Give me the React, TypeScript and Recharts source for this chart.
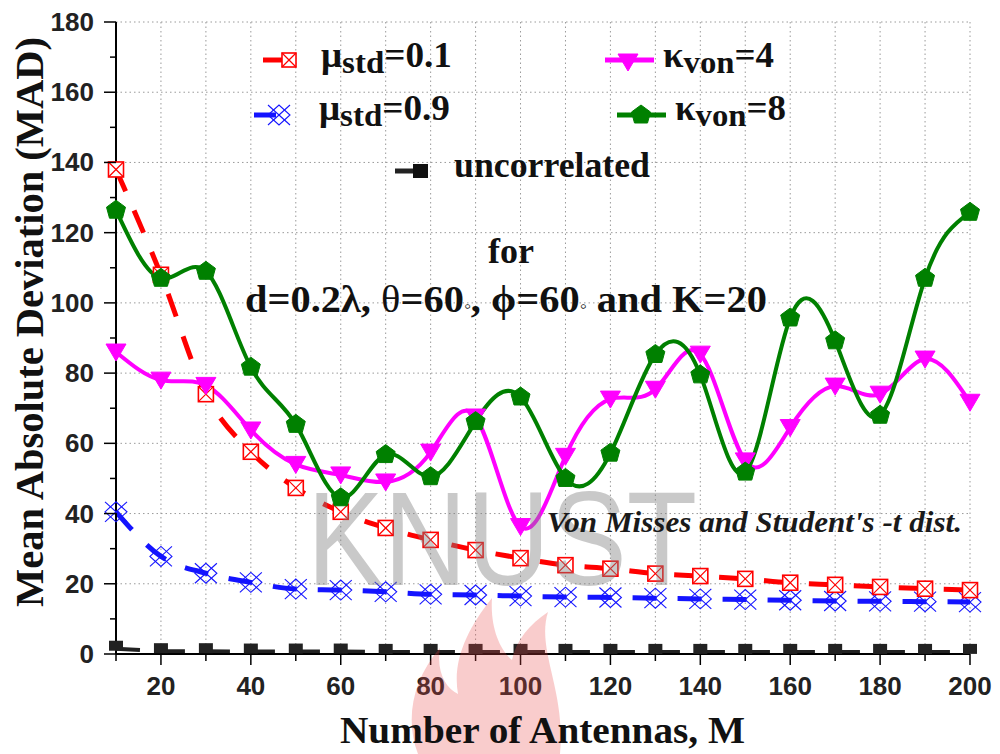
import React from 'react';
import { LineChart, Line, XAxis, YAxis, CartesianGrid } from 'recharts';

// ---------- data ----------
const antennas = [10, 20, 30, 40, 50, 60, 70, 80, 90, 100, 110, 120, 130, 140, 150, 160, 170, 180, 190, 200];
const muStd01 = [138, 108, 74, 57.6, 47.3, 40.5, 35.9, 32.5, 29.6, 27.3, 25.3, 24.3, 22.9, 22.2, 21.4, 20.3, 19.7, 19.1, 18.6, 18.2];
const muStd09 = [40.5, 27.8, 23, 20.4, 18.5, 18.2, 17.7, 17.0, 16.8, 16.5, 16.2, 16.1, 15.9, 15.7, 15.5, 15.3, 15.1, 15.0, 14.9, 14.8];
const kappaVon4 = [86, 78, 76.5, 63.8, 54, 51, 49, 57.5, 67.5, 36.3, 56.3, 72.6, 75.4, 85.4, 55, 64.5, 76.3, 74, 84, 71.7];
const kappaVon8 = [126.4, 107, 109, 81.7, 65.4, 44.5, 56.8, 50.5, 66.2, 73.2, 50, 57.2, 85.3, 79.5, 51.8, 95.7, 89.2, 68, 107, 125.8];
const uncorrelated = [1.5, 0.8, 0.8, 0.7, 0.7, 0.7, 0.6, 0.6, 0.6, 0.6, 0.6, 0.6, 0.6, 0.6, 0.6, 0.6, 0.6, 0.6, 0.6, 0.6];

const xTicks = [10, 20, 30, 40, 50, 60, 70, 80, 90, 100, 110, 120, 130, 140, 150, 160, 170, 180, 190, 200];
const xLabelStep = 20;
const yTicks = [0, 10, 20, 30, 40, 50, 60, 70, 80, 90, 100, 110, 120, 130, 140, 150, 160, 170, 180];
const yLabelStep = 20;
const yGridValues = [0, 20, 40, 60, 80, 100, 120, 140, 160, 180];

const data = antennas.map((m, i) => ({
  m,
  mu01: muStd01[i],
  mu09: muStd09[i],
  k4: kappaVon4[i],
  k8: kappaVon8[i],
  unc: uncorrelated[i],
}));

const SERIF = "'Liberation Serif', 'Times New Roman', serif";
const SANS = "'Liberation Sans', Arial, sans-serif";
const RED = '#ff0000';
const BLUE = '#1414ff';
const MAGENTA = '#ff00ff';
const GREEN = '#008000';
const BLACK = '#222222';

// ---------- markers ----------
const SquareX = ({ cx, cy, s = 15, color = RED }: any) => {
  const h = s / 2;
  return (
    <g>
      <rect x={cx - h} y={cy - h} width={s} height={s} fill="#fff" stroke={color} strokeWidth={1.6} />
      <line x1={cx - h} y1={cy - h} x2={cx + h} y2={cy + h} stroke={color} strokeWidth={1.2} />
      <line x1={cx - h} y1={cy + h} x2={cx + h} y2={cy - h} stroke={color} strokeWidth={1.2} />
    </g>
  );
};

const Lattice = ({ cx, cy, color = BLUE }: any) => {
  const w = 11;
  const h = 10;
  return (
    <g stroke={color} strokeWidth={1.1} fill="none">
      <line x1={cx - w} y1={cy - h} x2={cx + w} y2={cy + h} />
      <line x1={cx - w} y1={cy + h} x2={cx + w} y2={cy - h} />
      <polygon points={`${cx - w},${cy} ${cx},${cy - h} ${cx + w},${cy} ${cx},${cy + h}`} />
    </g>
  );
};

const TriDown = ({ cx, cy, color = MAGENTA }: any) => (
  <polygon points={`${cx - 10},${cy - 8} ${cx + 10},${cy - 8} ${cx},${cy + 9}`} fill={color} stroke={color} strokeWidth={1} />
);

const Pentagon = ({ cx, cy, color = GREEN }: any) => (
  <polygon
    points={`${cx},${cy - 10} ${cx + 9.5},${cy - 3} ${cx + 6.5},${cy + 8} ${cx - 6.5},${cy + 8} ${cx - 9.5},${cy - 3}`}
    fill={color}
    stroke={color}
    strokeWidth={1}
  />
);

const HalfSquare = ({ cx, cy, color = BLACK }: any) => (
  <rect x={cx - 7} y={cy - 8} width={14} height={10} fill={color} />
);

// ---------- axis ticks ----------
const BottomTick = (props: any) => {
  const { x, y, payload } = props;
  const v = payload.value;
  const major = v % xLabelStep === 0;
  return (
    <g>
      <line x1={x} x2={x} y1={y} y2={y + (major ? 11 : 7)} stroke="#000" strokeWidth={1.5} />
      {major ? (
        <text x={x} y={y + 41} textAnchor="middle" fontFamily={SANS} fontWeight="bold" fontSize={26} fill="#222">
          {v}
        </text>
      ) : null}
    </g>
  );
};

const TopTick = (props: any) => {
  const { x, y, payload } = props;
  const major = payload.value % xLabelStep === 0;
  return <line x1={x} x2={x} y1={y} y2={y + (major ? 8 : 4)} stroke="#000" strokeWidth={1.5} />;
};

const LeftTick = (props: any) => {
  const { x, y, payload } = props;
  const v = payload.value;
  const major = v % yLabelStep === 0;
  return (
    <g>
      <line x1={x - (major ? 12 : 6)} x2={x} y1={y} y2={y} stroke="#000" strokeWidth={1.5} />
      {major ? (
        <text x={x - 22} y={y + 9} textAnchor="end" fontFamily={SANS} fontWeight="bold" fontSize={26} fill="#222">
          {v}
        </text>
      ) : null}
    </g>
  );
};

const RightTick = (props: any) => {
  const { x, y, payload } = props;
  const major = payload.value % yLabelStep === 0;
  return <line x1={x - (major ? 12 : 5)} x2={x} y1={y} y2={y} stroke="#000" strokeWidth={1.5} />;
};

const axisLine = { stroke: '#000', strokeWidth: 2 };

// ---------- overlay (legend, annotations, titles, watermark) ----------
const Overlay = () => (
  <svg
    width={1000}
    height={754}
    style={{ position: 'absolute', left: 0, top: 0, pointerEvents: 'none' }}
  >
    {/* watermark */}
    <path
      d="M 418 754 C 405 720, 412 680, 440 648 C 436 672, 446 688, 458 694 C 452 660, 468 628, 492 598 C 490 628, 500 650, 512 660 C 516 640, 530 624, 548 612 C 536 650, 566 690, 560 754 Z"
      fill="#e84848"
      opacity={0.28}
    />
    <text
      x={307}
      y={585}
      fontFamily={SANS}
      fontSize={133}
      textLength={390}
      lengthAdjust="spacingAndGlyphs"
      fill="#808080"
      opacity={0.42}
    >
      KNUST
    </text>

    {/* axis titles */}
    <text
      transform="translate(43,322) rotate(-90)"
      textAnchor="middle"
      fontFamily={SERIF}
      fontWeight="bold"
      fontSize={40}
      textLength={570}
      lengthAdjust="spacingAndGlyphs"
      fill="#111"
    >
      Mean Absolute Deviation (MAD)
    </text>
    <text
      x={340}
      y={743}
      fontFamily={SERIF}
      fontWeight="bold"
      fontSize={38}
      textLength={405}
      lengthAdjust="spacingAndGlyphs"
      fill="#111"
    >
      Number of Antennas, M
    </text>

    {/* legend */}
    <line x1={263} y1={60} x2={287} y2={60} stroke={RED} strokeWidth={5} />
    <SquareX cx={289} cy={60} s={14} />
    <text x={321} y={67} fontFamily={SERIF} fontWeight="bold" fontSize={35} textLength={131} lengthAdjust="spacingAndGlyphs" fill="#111">
      μ<tspan dy={6} fontSize={31}>std</tspan><tspan dy={-6}>=0.1</tspan>
    </text>

    <line x1={605} y1={60} x2={654} y2={60} stroke={MAGENTA} strokeWidth={5} />
    <TriDown cx={628} cy={62} />
    <text x={663} y={67} fontFamily={SERIF} fontWeight="bold" fontSize={35} textLength={111} lengthAdjust="spacingAndGlyphs" fill="#111">
      κ<tspan dy={6} fontSize={31}>von</tspan><tspan dy={-6}>=4</tspan>
    </text>

    <line x1={254} y1={115} x2={276} y2={115} stroke={BLUE} strokeWidth={5} />
    <Lattice cx={279} cy={115} />
    <text x={319} y={120} fontFamily={SERIF} fontWeight="bold" fontSize={35} textLength={131} lengthAdjust="spacingAndGlyphs" fill="#111">
      μ<tspan dy={6} fontSize={31}>std</tspan><tspan dy={-6}>=0.9</tspan>
    </text>

    <line x1={617} y1={115} x2={666} y2={115} stroke={GREEN} strokeWidth={5} />
    <Pentagon cx={641} cy={115} />
    <text x={675} y={120} fontFamily={SERIF} fontWeight="bold" fontSize={35} textLength={111} lengthAdjust="spacingAndGlyphs" fill="#111">
      κ<tspan dy={6} fontSize={31}>von</tspan><tspan dy={-6}>=8</tspan>
    </text>

    <line x1={395} y1={171} x2={418} y2={171} stroke={BLACK} strokeWidth={5} />
    <rect x={413} y={164} width={15} height={14} fill="#111" />
    <text x={454} y={177} fontFamily={SERIF} fontWeight="bold" fontSize={35} textLength={196} lengthAdjust="spacingAndGlyphs" fill="#111">
      uncorrelated
    </text>

    {/* annotations */}
    <text x={511} y={263} textAnchor="middle" fontFamily={SERIF} fontWeight="bold" fontSize={36} fill="#111">
      for
    </text>
    <text x={245} y={312} fontFamily={SERIF} fontWeight="bold" fontSize={37} textLength={522} lengthAdjust="spacingAndGlyphs" fill="#111">
      d=0.2λ, <tspan fontWeight="normal">θ</tspan>=60<tspan fontSize={18} fontWeight="normal">◦</tspan>, ϕ=60<tspan fontSize={18} fontWeight="normal">◦</tspan> and K=20
    </text>
    <text
      x={547}
      y={532}
      fontFamily={SERIF}
      fontWeight="bold"
      fontStyle="italic"
      fontSize={30}
      textLength={415}
      lengthAdjust="spacingAndGlyphs"
      fill="#1a1a1a"
    >
      Von Misses and Student's -t dist.
    </text>
  </svg>
);

export default function App() {
  return (
    <div style={{ position: 'absolute', left: 0, top: 0, width: 1000, height: 754, background: '#fff' }}>
      <LineChart width={1000} height={754} data={data} margin={{ top: 22, right: 30, bottom: 0, left: 0 }}>
        <CartesianGrid
          xAxisId="b"
          yAxisId="l"
          horizontalValues={yGridValues}
          verticalValues={xTicks}
          stroke="#9a9a9a"
          strokeDasharray="1.5 3"
          strokeWidth={1}
        />
        <XAxis
          xAxisId="b"
          dataKey="m"
          type="number"
          domain={[10, 200]}
          ticks={xTicks}
          interval={0}
          orientation="bottom"
          height={100}
          tickSize={0}
          tickMargin={0}
          tickLine={false}
          axisLine={axisLine}
          tick={(p: any) => <BottomTick {...p} />}
        />
        <XAxis
          xAxisId="t"
          dataKey="m"
          type="number"
          domain={[10, 200]}
          ticks={xTicks}
          interval={0}
          orientation="top"
          height={0}
          tickSize={0}
          tickMargin={0}
          tickLine={false}
          axisLine={axisLine}
          tick={(p: any) => <TopTick {...p} />}
        />
        <YAxis
          yAxisId="l"
          type="number"
          domain={[0, 180]}
          ticks={yTicks}
          interval={0}
          orientation="left"
          width={116}
          tickSize={0}
          tickMargin={0}
          tickLine={false}
          axisLine={axisLine}
          tick={(p: any) => <LeftTick {...p} />}
        />
        <YAxis
          yAxisId="r"
          type="number"
          domain={[0, 180]}
          ticks={yTicks}
          interval={0}
          orientation="right"
          width={0}
          tickSize={0}
          tickMargin={0}
          tickLine={false}
          axisLine={axisLine}
          tick={(p: any) => <RightTick {...p} />}
        />

        <Line
          xAxisId="b"
          yAxisId="l"
          dataKey="unc"
          type="linear"
          stroke={BLACK}
          strokeWidth={4}
          strokeDasharray="24 21"
          isAnimationActive={false}
          activeDot={false}
          dot={(p: any) => <HalfSquare key={`u${p.index}`} cx={p.cx} cy={p.cy} />}
        />
        <Line
          xAxisId="b"
          yAxisId="l"
          dataKey="mu09"
          type="monotone"
          stroke={BLUE}
          strokeWidth={5}
          strokeDasharray="24 21"
          isAnimationActive={false}
          activeDot={false}
          dot={(p: any) => <Lattice key={`b${p.index}`} cx={p.cx} cy={p.cy} />}
        />
        <Line
          xAxisId="b"
          yAxisId="l"
          dataKey="mu01"
          type="monotone"
          stroke={RED}
          strokeWidth={5}
          strokeDasharray="24 21"
          isAnimationActive={false}
          activeDot={false}
          dot={(p: any) => <SquareX key={`r${p.index}`} cx={p.cx} cy={p.cy} />}
        />
        <Line
          xAxisId="b"
          yAxisId="l"
          dataKey="k4"
          type="natural"
          stroke={MAGENTA}
          strokeWidth={4}
          isAnimationActive={false}
          activeDot={false}
          dot={(p: any) => <TriDown key={`m${p.index}`} cx={p.cx} cy={p.cy} />}
        />
        <Line
          xAxisId="b"
          yAxisId="l"
          dataKey="k8"
          type="natural"
          stroke={GREEN}
          strokeWidth={4}
          isAnimationActive={false}
          activeDot={false}
          dot={(p: any) => <Pentagon key={`g${p.index}`} cx={p.cx} cy={p.cy} />}
        />
      </LineChart>
      <Overlay />
    </div>
  );
}
